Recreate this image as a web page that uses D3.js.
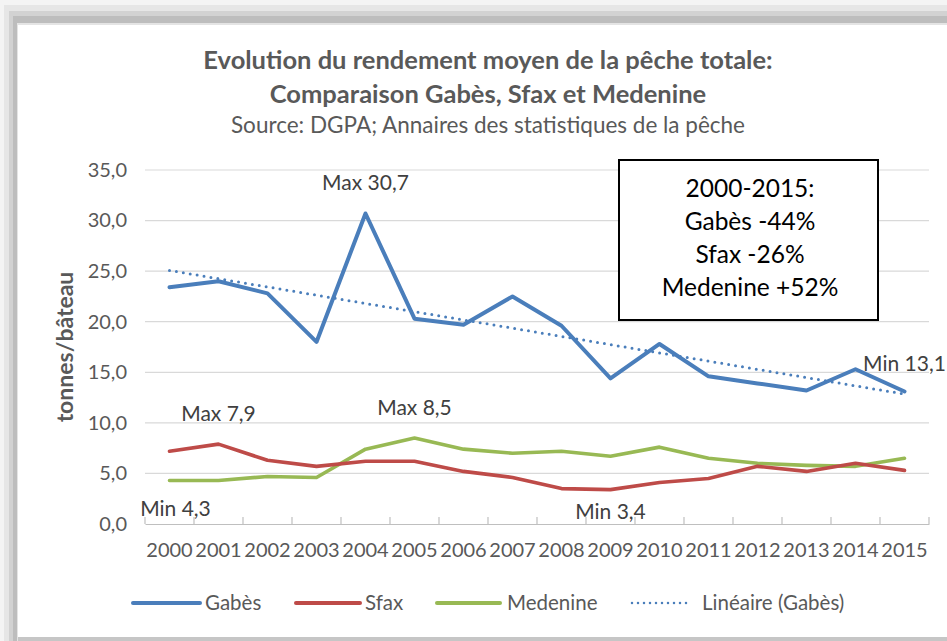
<!DOCTYPE html>
<html><head><meta charset="utf-8">
<script src="https://cdn.jsdelivr.net/npm/d3@7"></script>
<style>html,body{margin:0;padding:0;background:#fff;}svg{display:block;}</style>
</head><body>
<svg id="c" width="947" height="641"></svg>
<script>
const years = ["2000","2001","2002","2003","2004","2005","2006","2007","2008","2009","2010","2011","2012","2013","2014","2015"];
const gabes = [23.4,24.0,22.8,18.0,30.7,20.3,19.7,22.5,19.6,14.4,17.8,14.6,13.9,13.2,15.3,13.1];
const sfax = [7.2,7.9,6.3,5.7,6.2,6.2,5.2,4.6,3.5,3.4,4.1,4.5,5.7,5.2,6.0,5.3];
const medenine = [4.3,4.3,4.7,4.6,7.4,8.5,7.4,7.0,7.2,6.7,7.6,6.5,6.0,5.8,5.7,6.5];
const yTicks = [0,5,10,15,20,25,30,35];
const seriesNames = ["Gabès","Sfax","Medenine","Linéaire (Gabès)"];
const boxLines = ["2000-2015:","Gabès -44%","Sfax -26%","Medenine +52%"];
const annotations = [
  {text:"Max 30,7", s:"gabes", i:4, dx:0, dy:-23},
  {text:"Max 7,9", s:"sfax", i:1, dx:0, dy:-23},
  {text:"Max 8,5", s:"medenine", i:5, dx:0, dy:-23},
  {text:"Min 4,3", s:"medenine", i:0, dx:6, dy:35},
  {text:"Min 3,4", s:"sfax", i:9, dx:0, dy:29},
  {text:"Min 13,1", s:"gabes", i:15, dx:0, dy:-21}
];
const data = {gabes, sfax, medenine};
const colors = {gabes:"#4a7ebb", sfax:"#be4b48", medenine:"#98b954"};
const FONT = "Lato, 'Open Sans', sans-serif";

const svg = d3.select("#c");
// frame / shadow
svg.append("rect").attr("width",947).attr("height",641).attr("fill","#f4f4f4");
svg.append("rect").attr("x",4).attr("y",5).attr("width",943).attr("height",636).attr("fill","#e6e6e6");
svg.append("rect").attr("x",9).attr("y",11).attr("width",938).attr("height",630).attr("fill","#d2d2d2");
svg.append("rect").attr("x",13).attr("y",16).attr("width",934).attr("height",625).attr("fill","#bdbdbd");
svg.append("rect").attr("x",17).attr("y",23).attr("width",930).attr("height",618).attr("fill","#e4e4e4");
svg.append("rect").attr("x",18).attr("y",25).attr("width",929).attr("height",612).attr("fill","#ffffff");
svg.append("rect").attr("x",18).attr("y",637).attr("width",929).attr("height",4).attr("fill","#c6c6c6");

const m = {l:145, r:929, t:170, b:524};
const x = d3.scaleBand().domain(years).range([m.l, m.r]);
const xc = i => x(years[i]) + x.bandwidth()/2;
const y = d3.scaleLinear().domain([0,35]).range([m.b, m.t]);

// title
const title = svg.append("g").attr("font-family",FONT).attr("text-anchor","middle").attr("fill","#595959");
title.append("text").attr("x",488).attr("y",69).attr("font-size",25.5).attr("font-weight","bold").text("Evolution du rendement moyen de la pêche totale:");
title.append("text").attr("x",488).attr("y",103).attr("font-size",25.5).attr("font-weight","bold").text("Comparaison  Gabès, Sfax et Medenine");
title.append("text").attr("x",488).attr("y",133).attr("font-size",22.5).text("Source: DGPA; Annaires des statistiques de la pêche");

// gridlines
svg.append("g").selectAll("line").data(yTicks.filter(d=>d>0)).join("line")
  .attr("x1",m.l).attr("x2",m.r).attr("y1",d=>y(d)).attr("y2",d=>y(d))
  .attr("stroke","#d9d9d9").attr("stroke-width",1.2);

// y axis labels
const fmt = d => d3.format(".1f")(d).replace(".",",");
const ya = svg.append("g").attr("transform",`translate(${m.l},0)`)
  .call(d3.axisLeft(y).tickValues(yTicks).tickFormat(fmt).tickSize(0).tickPadding(18));
ya.select(".domain").remove();
ya.selectAll("text").attr("font-family",FONT).attr("font-size",20).attr("fill","#595959");

// x axis
const xa = svg.append("g").attr("transform",`translate(0,${m.b})`)
  .call(d3.axisBottom(x).tickSize(0).tickPadding(19));
xa.select(".domain").attr("stroke","#bfbfbf").attr("stroke-width",1.2);
xa.selectAll("text").attr("font-family",FONT).attr("font-size",20).attr("fill","#595959");
svg.append("g").selectAll("line").data(d3.range(years.length+1)).join("line")
  .attr("x1",i=>m.l + i*x.step()).attr("x2",i=>m.l + i*x.step())
  .attr("y1",m.b).attr("y2",m.b-7).attr("stroke","#bfbfbf").attr("stroke-width",1.2);

// y title
svg.append("text").attr("transform",`translate(73,${(m.t+m.b)/2}) rotate(-90)`)
  .attr("text-anchor","middle").attr("font-family",FONT).attr("font-size",23).attr("font-weight","bold")
  .attr("fill","#595959").text("tonnes/bâteau");

// lines
const line = d3.line().x((d,i)=>xc(i)).y(d=>y(d)).curve(d3.curveLinear);
["medenine","sfax","gabes"].forEach(k=>{
  svg.append("path").datum(data[k]).attr("d",line).attr("fill","none")
    .attr("stroke",colors[k]).attr("stroke-width",k==="gabes"?4:3.6).attr("stroke-linejoin","round").attr("stroke-linecap","round");
});
// linear trend for Gabès
const n = gabes.length, xs = d3.range(n);
const mx = d3.mean(xs), my = d3.mean(gabes);
const slope = d3.sum(xs,(v,i)=>(v-mx)*(gabes[i]-my)) / d3.sum(xs,v=>(v-mx)*(v-mx));
const icpt = my - slope*mx;
const trend = xs.map(i=>icpt+slope*i);
svg.append("path").datum(trend).attr("d",line).attr("fill","none")
  .attr("stroke",colors.gabes).attr("stroke-width",3).attr("stroke-dasharray","0,7").attr("stroke-linecap","round");

// annotations
svg.append("g").selectAll("text").data(annotations).join("text")
  .attr("x",d=>xc(d.i)+d.dx).attr("y",d=>y(data[d.s][d.i])+d.dy)
  .attr("text-anchor","middle").attr("font-family",FONT).attr("font-size",21).attr("fill","#404040")
  .text(d=>d.text);

// text box
svg.append("rect").attr("x",619).attr("y",160).attr("width",259).attr("height",160)
  .attr("fill","#fff").attr("stroke","#000").attr("stroke-width",2);
svg.append("g").selectAll("text").data(boxLines).join("text")
  .attr("x",750).attr("y",(d,i)=>197+i*33).attr("text-anchor","middle")
  .attr("font-family",FONT).attr("font-size",24.5).attr("fill","#000").text(d=>d);

// legend
const lg = [
  {name:seriesNames[0], c:colors.gabes, x1:133, x2:200, tx:205, dash:null, w:4},
  {name:seriesNames[1], c:colors.sfax, x1:296, x2:360, tx:365, dash:null, w:4},
  {name:seriesNames[2], c:colors.medenine, x1:437, x2:500, tx:507, dash:null, w:4},
  {name:seriesNames[3], c:colors.gabes, x1:632, x2:690, tx:702, dash:"0,6", w:2.5}
];
const lgG = svg.append("g");
lgG.selectAll("line").data(lg).join("line")
  .attr("x1",d=>d.x1).attr("x2",d=>d.x2).attr("y1",603).attr("y2",603)
  .attr("stroke",d=>d.c).attr("stroke-width",d=>d.w).attr("stroke-linecap","round")
  .attr("stroke-dasharray",d=>d.dash);
lgG.selectAll("text").data(lg).join("text")
  .attr("x",d=>d.tx).attr("y",610).attr("font-family",FONT).attr("font-size",20.5).attr("fill","#595959")
  .text(d=>d.name);
</script>
</body></html>
